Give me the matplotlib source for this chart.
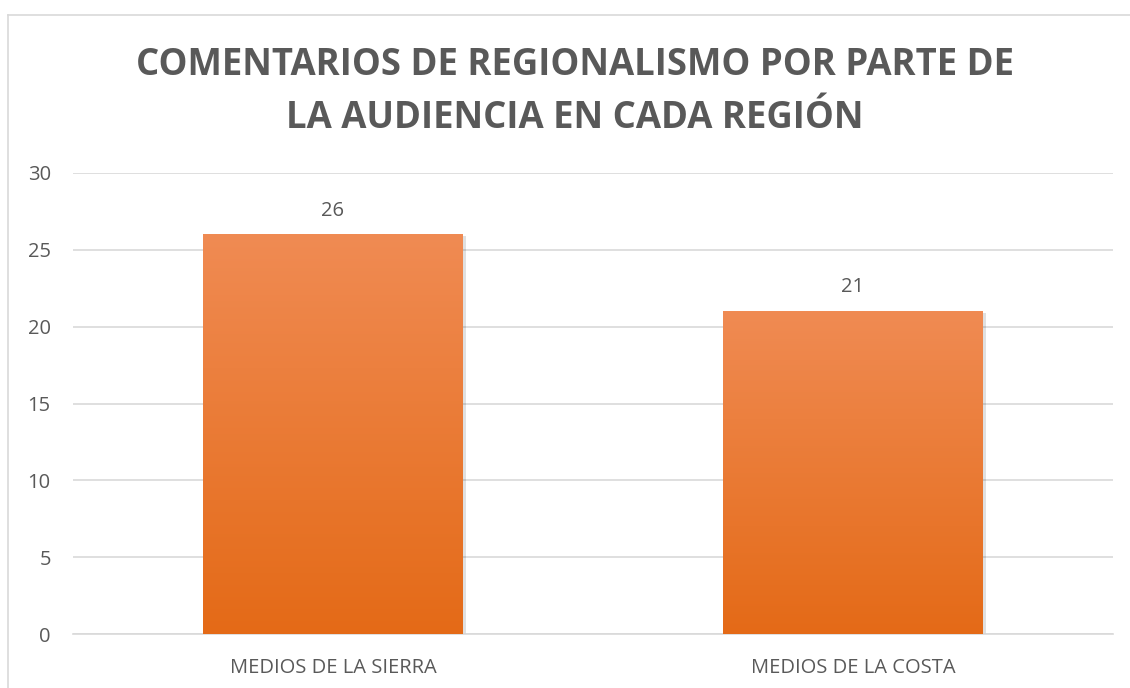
import numpy as np
import matplotlib.pyplot as plt
from matplotlib.colors import LinearSegmentedColormap
from matplotlib.patches import Rectangle

categories = ['MEDIOS DE LA SIERRA', 'MEDIOS DE LA COSTA']
values = [26, 21]
title_lines = ['COMENTARIOS DE REGIONALISMO POR PARTE DE', 'LA AUDIENCIA EN CADA REGIÓN']

plt.rcParams['font.family'] = ['Open Sans', 'DejaVu Sans']
text_color = '#595959'

fig = plt.figure(figsize=(11.3, 6.88), dpi=100)
ax = fig.add_axes([73/1130, 1 - 634/688, 1040/1130, 461/688])

# light chart border (top and left visible)
fig.add_artist(plt.Line2D([8/1130, 1], [1 - 15/688, 1 - 15/688], color='#D9D9D9', lw=1.2))
fig.add_artist(plt.Line2D([8/1130, 8/1130], [0, 1 - 15/688], color='#D9D9D9', lw=1.2))

grad = LinearSegmentedColormap.from_list('og', ['#E46A17', '#F08B53'])
x = np.arange(len(categories))
width = 0.5
bars = ax.bar(x, values, width=width, color='none', zorder=3)
for b in bars:
    x0, y0 = b.get_x(), b.get_y()
    w, h = b.get_width(), b.get_height()
    # soft shadow
    ax.add_patch(Rectangle((x0 + 0.006, y0), w, h - 0.1, color='#000000', alpha=0.12, zorder=2, lw=0))
    im = ax.imshow(np.linspace(0, 1, 256).reshape(-1, 1), cmap=grad, origin='lower',
                   extent=[x0, x0 + w, y0, y0 + h], aspect='auto', zorder=3)
    im.set_clip_path(b)
    ax.text(x0 + w / 2, h + 0.9, f'{h:g}', ha='center', va='bottom', fontsize=14.5, color=text_color)

ax.set_xlim(-0.5, 1.5)
ax.set_ylim(0, 30)
ax.set_yticks(range(0, 31, 5))
ax.set_xticks(x)
ax.set_xticklabels(categories)
ax.tick_params(length=0, labelsize=14.5, labelcolor=text_color)
ax.tick_params(axis='y', pad=16)
ax.tick_params(axis='x', pad=17)
ax.grid(axis='y', color='#D9D9D9', lw=1.2, zorder=0)
ax.set_axisbelow(True)
for s in ['top', 'right', 'left']:
    ax.spines[s].set_visible(False)
ax.spines['bottom'].set_color('#D9D9D9')
ax.spines['bottom'].set_linewidth(1.2)

# title, two lines placed by baseline
for line, base in zip(title_lines, [75, 128]):
    fig.text(575/1130, 1 - base/688, line, ha='center', va='baseline', fontsize=26.3,
             fontweight='bold', color=text_color)

fig.savefig('out.png', dpi=100)
